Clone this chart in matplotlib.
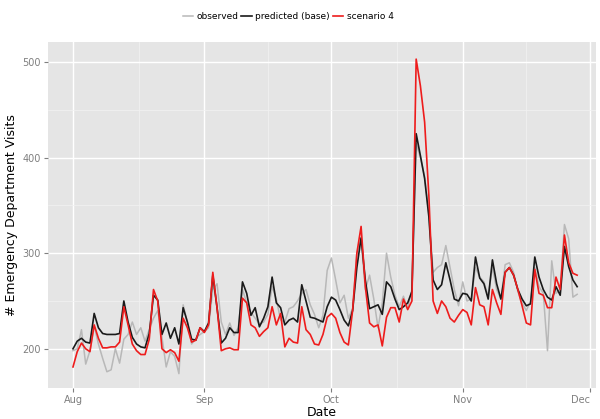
import matplotlib
matplotlib.use("Agg")
import matplotlib.pyplot as plt
import matplotlib.dates as mdates
import numpy as np
import pandas as pd

dates = pd.date_range("2012-08-01", periods=120, freq="D")

observed = [198, 200, 220, 184, 198, 224, 205, 190, 176, 178,
            200, 185, 210, 215, 228, 215, 222, 208, 220, 232,
            240, 212, 181, 197, 192, 174, 246, 228, 205, 211,
            215, 218, 222, 262, 268, 228, 215, 227, 214, 222,
            262, 248, 238, 232, 226, 228, 236, 265, 252, 230,
            228, 242, 244, 250, 258, 262, 246, 236, 222, 235,
            282, 295, 272, 248, 256, 232, 242, 300, 315, 262,
            277, 252, 222, 248, 300, 275, 256, 244, 255, 242,
            262, 415, 400, 380, 340, 280, 285, 288, 308, 285,
            262, 245, 270, 250, 252, 285, 275, 270, 255, 285,
            262, 252, 288, 290, 280, 260, 248, 240, 250, 285,
            265, 258, 198, 292, 258, 262, 330, 315, 254, 257]

predicted = [200, 208, 211, 207, 206, 237, 222, 216, 215, 215,
             215, 216, 250, 228, 212, 205, 202, 201, 216, 256,
             251, 215, 227, 211, 222, 205, 243, 228, 210, 209,
             222, 218, 227, 277, 243, 206, 211, 222, 217, 217,
             270, 258, 235, 243, 223, 232, 244, 275, 248, 243,
             225, 230, 232, 228, 267, 250, 233, 232, 230, 228,
             244, 254, 251, 241, 230, 224, 240, 285, 316, 272,
             242, 244, 246, 236, 270, 265, 252, 241, 244, 248,
             260, 425, 402, 378, 338, 272, 262, 267, 290, 272,
             252, 250, 258, 257, 250, 296, 274, 268, 252, 293,
             268, 252, 280, 285, 277, 262, 252, 245, 247, 296,
             275, 262, 254, 251, 265, 256, 307, 286, 272, 265]

scenario4 = [181, 197, 206, 200, 197, 225, 211, 201, 201, 202,
             202, 207, 244, 225, 205, 198, 194, 194, 210, 262,
             250, 200, 196, 199, 196, 187, 232, 222, 207, 209,
             222, 217, 225, 280, 243, 198, 200, 201, 199, 199,
             253, 248, 225, 222, 213, 218, 222, 244, 225, 237,
             202, 211, 207, 206, 244, 220, 215, 205, 204, 215,
             233, 237, 232, 217, 207, 204, 240, 300, 328, 265,
             227, 223, 225, 203, 233, 243, 243, 228, 252, 241,
             250, 503, 475, 437, 360, 250, 237, 250, 244, 232,
             228, 235, 241, 238, 225, 264, 246, 244, 225, 262,
             248, 236, 280, 285, 277, 262, 245, 227, 225, 283,
             258, 256, 243, 243, 275, 262, 319, 290, 279, 277]

fig = plt.figure(figsize=(6, 4.19), dpi=100)
ax = fig.add_axes([0.08, 0.074, 0.913, 0.826])
ax.set_facecolor("#e5e5e5")
for s in ax.spines.values():
    s.set_visible(False)

ax.plot(dates, observed, color="#b8b8b8", lw=1.1, label="observed")
ax.plot(dates, predicted, color="#1a1a1a", lw=1.2, label="predicted (base)")
ax.plot(dates, scenario4, color="#ee1c1c", lw=1.2, label="scenario 4")

months = pd.to_datetime(["2012-08-01", "2012-09-01", "2012-10-01",
                         "2012-11-01", "2012-12-01"])
mnum = mdates.date2num(months)
ax.set_xticks(mnum)
ax.set_xticklabels(["Aug", "Sep", "Oct", "Nov", "Dec"])
ax.set_xticks(list((mnum[:-1] + mnum[1:]) / 2), minor=True)
ax.set_yticks([200, 300, 400, 500])
ax.set_yticks([250, 350, 450], minor=True)

# axes limits (set after ticks so they are not widened)
start = mdates.date2num(dates[0])
ax.set_xlim(start - 5.9, start + 123.4)
ax.set_ylim(159, 521)

ax.grid(which="major", color="white", lw=1.0)
ax.grid(which="minor", color="#f2f2f2", lw=0.5)
ax.set_axisbelow(True)
ax.tick_params(which="major", length=3, color="#7f7f7f", labelsize=7,
               labelcolor="#7f7f7f", pad=2)
ax.tick_params(which="minor", length=0)
ax.get_xticklabels()[-1].set_horizontalalignment("right")

ax.set_xlabel("Date", fontsize=9, labelpad=1)
ax.set_ylabel("# Emergency Department Visits", fontsize=9, labelpad=3)

fig.legend(loc="upper center", bbox_to_anchor=(0.48, 0.99), ncol=3,
           frameon=False, fontsize=6.5, handlelength=1.2, handletextpad=0.35,
           columnspacing=0.3)

fig.savefig("out.png", dpi=100)
